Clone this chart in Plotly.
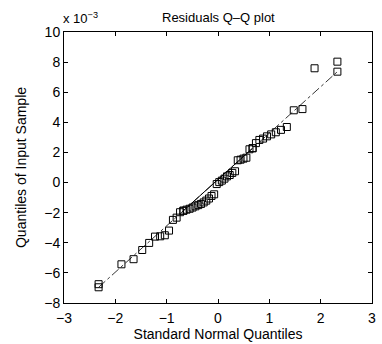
import plotly.graph_objects as go

# Standard normal quantiles for n = 50 plotting positions (i-0.5)/50
normal_quantiles = [
    -2.326, -1.881, -1.645, -1.476, -1.341, -1.227, -1.126, -1.036, -0.954, -0.878,
    -0.806, -0.739, -0.674, -0.613, -0.553, -0.496, -0.440, -0.385, -0.332, -0.279,
    -0.228, -0.176, -0.126, -0.075, -0.025, 0.025, 0.075, 0.126, 0.176, 0.228,
    0.279, 0.332, 0.385, 0.440, 0.496, 0.553, 0.613, 0.674, 0.739, 0.806,
    0.878, 0.954, 1.036, 1.126, 1.227, 1.341, 1.476, 1.645, 1.881, 2.326,
]

# Sorted residuals (units of 1e-3)
sample_quantiles_e3 = [
    -6.75, -5.43, -5.09, -4.48, -4.01, -3.59, -3.57, -3.50, -3.19, -2.48,
    -2.33, -1.97, -1.87, -1.80, -1.74, -1.66, -1.58, -1.50, -1.42, -1.32,
    -1.20, -1.06, -0.89, -0.78, -0.10, 0.03, 0.13, 0.26, 0.41, 0.50,
    0.64, 0.75, 1.48, 1.52, 1.59, 1.65, 2.21, 2.28, 2.62, 2.83,
    2.92, 3.07, 3.20, 3.34, 3.50, 3.69, 4.80, 4.88, 7.59, 8.03,
]

x_ticks = [-3, -2, -1, 0, 1, 2, 3]
y_ticks = [-8, -6, -4, -2, 0, 2, 4, 6, 8, 10]

title_text = "Residuals Q\u2013Q plot"
x_title = "Standard Normal Quantiles"
y_title = "Quantiles of Input Sample"
exponent_label = "x 10<sup>\u22123</sup>"

# Reference line through first and third quartiles (qqplot style)
i1, i3 = 12, 37
q1x, q3x = normal_quantiles[i1], normal_quantiles[i3]
q1y, q3y = sample_quantiles_e3[i1], sample_quantiles_e3[i3]
slope = (q3y - q1y) / (q3x - q1x)
cx, cy = (q1x + q3x) / 2, (q1y + q3y) / 2
xmin, xmax = normal_quantiles[0], normal_quantiles[-1]
ext_x = [xmin, xmax]
ext_y = [cy + slope * (v - cx) for v in ext_x]

FONT = "Liberation Sans, Arial, Helvetica, sans-serif"

fig = go.Figure()
fig.add_trace(go.Scatter(
    x=normal_quantiles, y=sample_quantiles_e3, mode="markers",
    marker=dict(symbol="square-open", size=7, color="black", line=dict(width=1, color="black")),
    showlegend=False, hoverinfo="skip",
))
fig.add_trace(go.Scatter(
    x=[q1x, q3x], y=[q1y, q3y], mode="lines+markers",
    line=dict(color="black", width=1),
    marker=dict(symbol="square-open", size=7, color="black"),
    showlegend=False, hoverinfo="skip",
))
fig.add_trace(go.Scatter(
    x=ext_x, y=ext_y, mode="lines+markers",
    line=dict(color="black", width=0.8, dash="dashdot"),
    marker=dict(symbol="square-open", size=7, color="black"),
    showlegend=False, hoverinfo="skip",
))

axis_common = dict(
    showgrid=False, zeroline=False, showline=True, linecolor="black", linewidth=1,
    ticks="inside", ticklen=4, tickcolor="black", mirror="allticks", automargin=False,
    tickfont=dict(family=FONT, size=14, color="black"),
)

fig.update_layout(
    width=382, height=344,
    margin=dict(l=64, r=10, t=32, b=41),
    paper_bgcolor="white", plot_bgcolor="white",
    font=dict(family=FONT, size=14, color="black"),
    xaxis=dict(range=[-3, 3], tickvals=x_ticks, ticktext=[str(t).replace("-", "\u2212") for t in x_ticks],
               ticklabelstandoff=2,
               title=dict(text=x_title, font=dict(size=14), standoff=2), **axis_common),
    yaxis=dict(range=[-8, 10], tickvals=y_ticks, ticktext=[str(t).replace("-", "\u2212") for t in y_ticks],
               title=dict(text=y_title, font=dict(size=14), standoff=14), **axis_common),
    annotations=[
        dict(text=title_text, x=0.5, y=1, xref="paper", yref="paper", xanchor="center", yanchor="bottom",
             yshift=5, showarrow=False, font=dict(family=FONT, size=13)),
        dict(text=exponent_label, x=-0.01, y=1, xref="paper", yref="paper", xanchor="left", yanchor="bottom",
             yshift=4, showarrow=False, font=dict(family=FONT, size=13)),
    ],
)

fig.write_html("out.html")
